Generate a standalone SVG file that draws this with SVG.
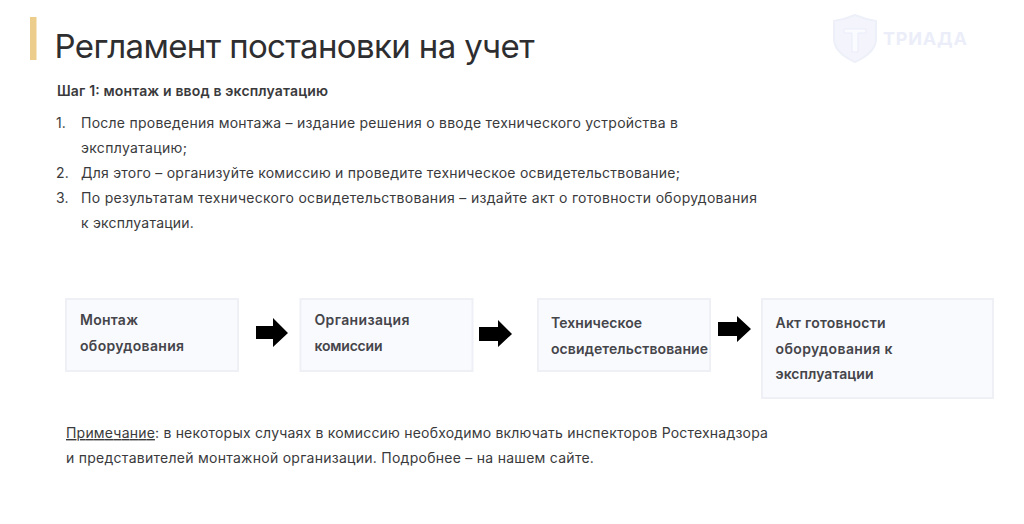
<svg xmlns="http://www.w3.org/2000/svg" width="1024" height="524" viewBox="0 0 1024 524">
<style>
text{font-family:"Inter","Noto Sans",sans-serif;fill:#3a3a3c}
.t{font-size:33px;fill:#2e2e30}
.b{font-size:14px;letter-spacing:.1px}
.h{font-size:14px;font-weight:600}
.n{font-size:14px;font-weight:600;fill:#45454a}
.box{fill:#f9fafe;stroke:#eef0f6;stroke-width:2}
.arr{fill:#000}
</style>
<rect width="1024" height="524" fill="#fff"/>
<rect x="30" y="17" width="6.500" height="43" fill="#eccd8b"/>
<text class="t" x="54.500" y="58" textLength="480">Регламент постановки на учет</text>
<g id="logo">
<path d="M855 15 C862 18 869 20 876 21 V39 C876 50 866 57 855 62 C844 57 834 50 834 39 V21 C841 20 848 18 855 15 Z" fill="#f4f5fc" stroke="#eef0f9" stroke-width="2"/>
<path d="M844 29 H866 V33 H858 V52 H852 V33 H844 Z" fill="#fafbff" stroke="#e9ecf8" stroke-width="1"/>
<text x="883" y="44.500" textLength="84" style="font-size:18px;font-weight:700;fill:#ebeef9">ТРИАДА</text>
</g>
<text class="h" x="57" y="96" textLength="271">Шаг 1: монтаж и ввод в эксплуатацию</text>
<text class="b" x="56" y="128">1.</text>
<text class="b" x="81" y="128" textLength="597">После проведения монтажа – издание решения о вводе технического устройства в</text>
<text class="b" x="81" y="153" textLength="106">эксплуатацию;</text>
<text class="b" x="56" y="178">2.</text>
<text class="b" x="81" y="178" textLength="599">Для этого – организуйте комиссию и проведите техническое освидетельствование;</text>
<text class="b" x="56" y="203">3.</text>
<text class="b" x="81" y="203" textLength="676">По результатам технического освидетельствования – издайте акт о готовности оборудования</text>
<text class="b" x="81" y="228" textLength="113">к эксплуатации.</text>
<g id="connectors">
<path class="arr" d="M256 326 H273 V318 L288 333 L273 347 V339 H256 Z"/>
<path class="arr" d="M479 327 H498 V320 L512 334 L498 347 V341 H479 Z"/>
<path class="arr" d="M718 322 H737 V316 L751 329 L737 342 V336 H718 Z"/>
</g>
<g id="node1"><rect class="box" x="66" y="299" width="172" height="72"/>
<text class="n" x="80" y="325" textLength="58">Монтаж</text><text class="n" x="80" y="351" textLength="104">оборудования</text></g>
<g id="node2"><rect class="box" x="300.500" y="299" width="172" height="72"/>
<text class="n" x="314.500" y="325" textLength="95">Организация</text><text class="n" x="314.500" y="351" textLength="68">комиссии</text></g>
<g id="node3"><rect class="box" x="538" y="299" width="172" height="72"/>
<text class="n" x="551" y="328" textLength="91">Техническое</text><text class="n" x="551" y="354" textLength="157">освидетельствование</text></g>
<g id="node4"><rect class="box" x="762" y="299" width="231" height="99"/>
<text class="n" x="775.500" y="328" textLength="110">Акт готовности</text><text class="n" x="775.500" y="354" textLength="117">оборудования к</text><text class="n" x="775.500" y="379" textLength="98">эксплуатации</text></g>
<text class="b" x="66" y="438" textLength="702"><tspan text-decoration="underline">Примечание</tspan>: в некоторых случаях в комиссию необходимо включать инспекторов Ростехнадзора</text>
<text class="b" x="66" y="463" textLength="528">и представителей монтажной организации. Подробнее – на нашем сайте.</text>
</svg>
